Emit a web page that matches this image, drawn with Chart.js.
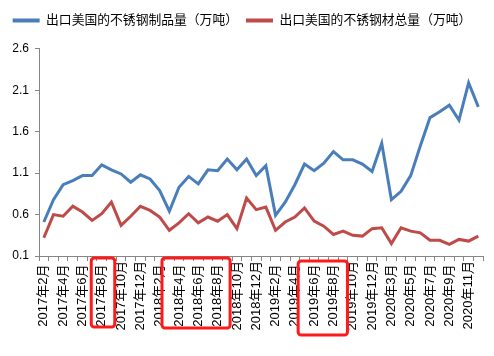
<!DOCTYPE html>
<html><head><meta charset="utf-8">
<script src="https://cdn.jsdelivr.net/npm/chart.js@4/dist/chart.umd.min.js"></script>
<style>html,body{margin:0;padding:0;background:#fff;overflow:hidden}</style>
</head><body>
<canvas id="c" width="494" height="356" style="width:494px;height:356px;display:block"></canvas>
<script>
const categories = [
  '2017年2月','2017年3月','2017年4月','2017年5月','2017年6月','2017年7月','2017年8月','2017年9月','2017年10月','2017年11月','2017年12月',
  '2018年1月','2018年2月','2018年3月','2018年4月','2018年5月','2018年6月','2018年7月','2018年8月','2018年9月','2018年10月','2018年11月','2018年12月',
  '2019年1月','2019年2月','2019年3月','2019年4月','2019年5月','2019年6月','2019年7月','2019年8月','2019年9月','2019年10月','2019年11月','2019年12月',
  '2020年2月','2020年3月','2020年4月','2020年5月','2020年6月','2020年7月','2020年8月','2020年9月','2020年10月','2020年11月','2020年12月'
];
const productsExport = [
  0.51,0.78,0.96,1.01,1.07,1.07,1.20,1.14,1.09,0.99,1.08,
  1.03,0.89,0.64,0.93,1.06,0.97,1.14,1.13,1.27,1.14,1.27,1.07,
  1.19,0.59,0.75,0.96,1.21,1.13,1.22,1.36,1.26,1.26,1.21,1.12,
  1.46,0.78,0.88,1.07,1.43,1.77,1.84,1.92,1.74,2.19,1.90
];
const totalExport = [
  0.32,0.60,0.58,0.70,0.63,0.53,0.61,0.75,0.47,0.58,0.70,
  0.65,0.57,0.41,0.50,0.61,0.50,0.57,0.52,0.60,0.43,0.80,0.66,
  0.69,0.41,0.51,0.57,0.68,0.52,0.46,0.36,0.40,0.35,0.34,0.43,
  0.44,0.25,0.44,0.40,0.38,0.29,0.29,0.24,0.30,0.28,0.34
];
const seriesNames = ['出口美国的不锈钢制品量（万吨）','出口美国的不锈钢材总量（万吨）'];
const yTicks = { min: 0.1, max: 2.6, step: 0.5 };
const highlightRanges = [[6,6],[14,18],[28,30]];

const FONT = "'Liberation Sans','Noto Sans CJK SC',sans-serif";
const AXIS = '#868686';

const legendSpacer = {
  id: 'legendSpacer',
  beforeUpdate(chart) {
    const lg = chart.legend;
    if (lg && !lg.__spaced) {
      const fit = lg.fit;
      lg.fit = function () { fit.call(this); this.height += 12; };
      lg.__spaced = true;
    }
  }
};

const highlightPlugin = {
  id: 'highlights',
  afterDraw(chart) {
    const xs = chart.scales.x, b = chart.chartArea.bottom, ctx = chart.ctx;
    const pads = [[-10.5, 13, 2, 71], [-17, 12.5, 2, 72], [-16, 14, 5, 79]];
    ctx.save();
    ctx.strokeStyle = '#ff1a1a';
    ctx.lineWidth = 3;
    highlightRanges.forEach((r, i) => {
      const p = pads[i];
      const x0 = xs.getPixelForValue(r[0]) + p[0];
      const x1 = xs.getPixelForValue(r[1]) + p[1];
      const y0 = b + p[2], y1 = b + p[3];
      ctx.beginPath();
      ctx.roundRect(x0, y0, x1 - x0, y1 - y0, 3);
      ctx.stroke();
    });
    ctx.restore();
  }
};

new Chart(document.getElementById('c'), {
  type: 'line',
  data: {
    labels: categories,
    datasets: [
      { label: seriesNames[0], data: productsExport, borderColor: '#4A7EBB', backgroundColor: '#4A7EBB', borderWidth: 3, pointRadius: 0, tension: 0 },
      { label: seriesNames[1], data: totalExport, borderColor: '#BE4B48', backgroundColor: '#BE4B48', borderWidth: 3, pointRadius: 0, tension: 0 }
    ]
  },
  options: {
    responsive: false,
    animation: false,
    devicePixelRatio: 1,
    layout: { padding: { top: 6, right: 10, left: 0, bottom: 0 } },
    plugins: {
      legend: {
        position: 'top',
        labels: {
          font: { family: FONT, size: 12.8 },
          color: '#000',
          boxWidth: 27,
          boxHeight: 4,
          padding: 8,
          generateLabels(chart) {
            return chart.data.datasets.map((d, i) => ({
              text: d.label, fillStyle: d.borderColor, strokeStyle: d.borderColor,
              lineWidth: 0, hidden: false, datasetIndex: i, fontColor: '#000'
            }));
          }
        }
      },
      tooltip: { enabled: false }
    },
    scales: {
      x: {
        offset: true,
        afterFit(s) { s.height = 100; },
        grid: { display: true, drawOnChartArea: false, drawTicks: true, tickLength: 5, color: AXIS, offset: true },
        border: { display: true, color: AXIS, width: 1 },
        ticks: {
          autoSkip: false, maxRotation: 90, minRotation: 90, padding: 0,
          font: { family: FONT, size: 13 }, color: '#000',
          callback(v, i) {
            if (i % 2 !== 0) return '';
            const l = categories[i];
            return /年\d月$/.test(l) ? l + ' ' : l;
          }
        }
      },
      y: {
        min: yTicks.min, max: yTicks.max,
        afterFit(s) { s.width = 39; },
        grid: { display: true, drawOnChartArea: false, drawTicks: true, tickLength: 4, color: AXIS },
        border: { display: true, color: AXIS, width: 1 },
        ticks: {
          stepSize: yTicks.step, padding: 6,
          font: { family: FONT, size: 12 }, color: '#000',
          callback(v) { return Number(v).toFixed(1); }
        }
      }
    }
  },
  plugins: [legendSpacer, highlightPlugin]
});
</script>
</body></html>
